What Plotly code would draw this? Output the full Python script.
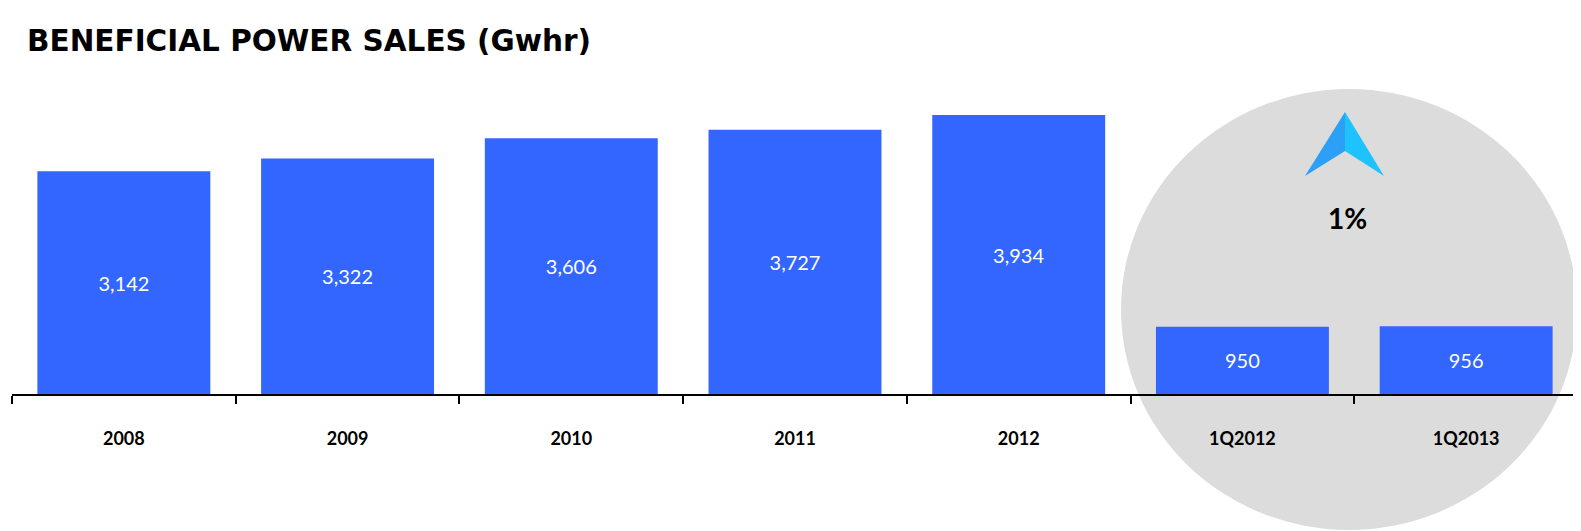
import plotly.graph_objects as go

categories = ["2008", "2009", "2010", "2011", "2012", "1Q2012", "1Q2013"]
values = [3142, 3322, 3606, 3727, 3934, 950, 956]
title_text = "BENEFICIAL POWER SALES (Gwhr)"
change_text = "1%"

# the page body adds an 8px offset; work in page pixels and subtract it
O = 8
W, H = 1581 - O, 531 - O
ml, mr, mt, mb = 12 - O, 11 - O, 75 - O, 137
pw, ph = W - ml - mr, H - mt - mb
axis_y = 394  # page pixel of the baseline

def px(x):
    return (x - O - ml) / pw

def py(y):
    return (axis_y - y) / ph

fig = go.Figure()
fig.add_trace(go.Bar(
    x=categories, y=values,
    marker=dict(color="#3366ff", line=dict(width=0)),
    texttemplate="%{y:,}", textposition="inside", insidetextanchor="middle",
    textangle=0,
    textfont=dict(family="Lato", size=20, color="white"),
    hoverinfo="skip",
))

shapes = [
    dict(type="circle", xref="paper", yref="paper", layer="below",
         x0=px(1121), x1=px(1577), y0=py(530), y1=py(89),
         fillcolor="#dcdcdc", line=dict(width=0)),
]
tip = (1345, 112)
notch = (1345, 151)
lb = (1305, 176)
rb = (1384, 176)
def path(pts):
    return "M " + " L ".join(f"{px(x)},{py(y)}" for x, y in pts) + " Z"
shapes.append(dict(type="path", xref="paper", yref="paper", layer="above",
                   path=path([tip, lb, notch]), fillcolor="#2c9ff6", line=dict(width=0)))
shapes.append(dict(type="path", xref="paper", yref="paper", layer="above",
                   path=path([tip, notch, rb]), fillcolor="#1ec3fe", line=dict(width=0)))

fig.update_layout(
    width=W, height=H,
    margin=dict(l=ml, r=mr, t=mt, b=mb),
    paper_bgcolor="white", plot_bgcolor="rgba(0,0,0,0)",
    showlegend=False,
    bargap=0.227,
    shapes=shapes,
    xaxis=dict(
        type="category", tickson="boundaries", ticks="outside", ticklen=8,
        tickwidth=1.5, tickcolor="black", showline=True, linecolor="black", linewidth=1.5,
        showgrid=False, ticklabelstandoff=28,
        tickfont=dict(family="Lato", size=18, color="black", weight="bold"),
        range=[-0.5, 6.5],
    ),
    yaxis=dict(range=[0, 4500], visible=False, showgrid=False, zeroline=False),
    annotations=[
        dict(text=title_text, xref="paper", yref="paper", x=px(25), y=py(41),
             xanchor="left", yanchor="middle", showarrow=False,
             font=dict(family="DejaVu Sans", size=29.5, color="black", weight="bold")),
        dict(text=change_text, xref="paper", yref="paper", x=px(1347), y=py(218),
             xanchor="center", yanchor="middle", showarrow=False,
             font=dict(family="Lato", size=28, color="black", weight="bold")),
    ],
)

fig.write_html("out.html")
